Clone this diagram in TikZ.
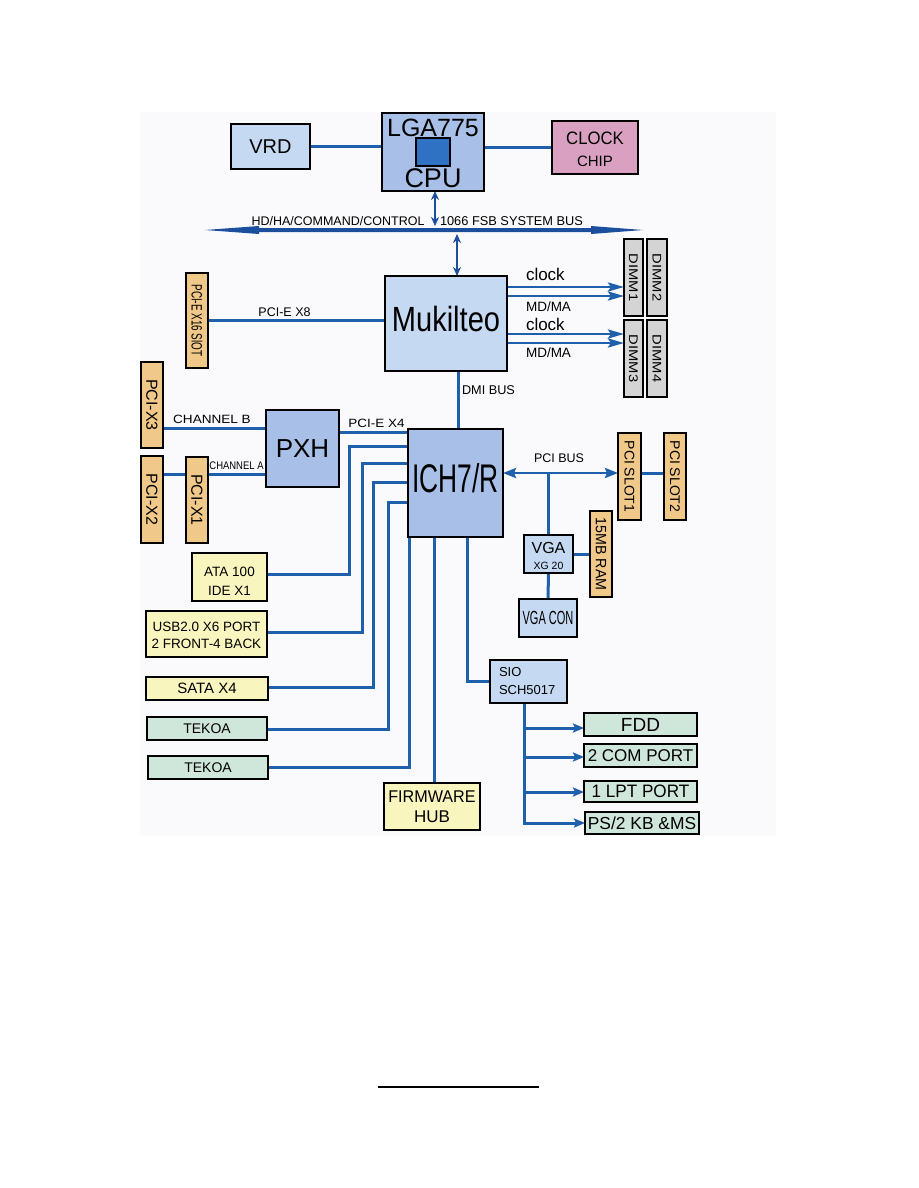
\documentclass[tikz,border=0pt]{standalone}
\usepackage{fontspec}
\setmainfont{Liberation Sans}
\usepackage{graphicx}
\usetikzlibrary{arrows.meta,calc}
\definecolor{lb}{HTML}{C5DAF2}
\definecolor{mb}{HTML}{A8C0E7}
\definecolor{sqc}{HTML}{2F72C4}
\definecolor{pk}{HTML}{D9A0C2}
\definecolor{org}{HTML}{F0C98A}
\definecolor{gy}{HTML}{D4D4D4}
\definecolor{yl}{HTML}{F9F5BF}
\definecolor{gr}{HTML}{CFE6DB}
\definecolor{lnc}{HTML}{1F60AC}
\definecolor{busc}{HTML}{1B4F9E}
\definecolor{bgc}{HTML}{FAFAFC}
\newcommand{\fs}[1]{\fontsize{#1}{#1}\selectfont}
\newcommand{\vt}[1]{\rotatebox{-90}{#1}}
\pgfdeclarelayer{bottom}
\pgfdeclarelayer{background}
\pgfsetlayers{bottom,background,main}
\begin{document}
\begin{tikzpicture}[x=1pt,y=-1pt,
  bx/.style={draw=black,line width=1.5pt,inner sep=0pt,outer sep=0pt},
  wire/.style={draw=lnc,line width=3pt},
  arr/.style={wire,line width=2.8pt,-{Stealth[length=16pt,width=9pt,inset=3pt]}},
  sarr/.style={wire,-{Stealth[length=11pt,width=9pt,inset=2pt]}},
  dbl/.style={draw=busc,line width=2.6pt,{Stealth[length=9pt,width=8pt]}-{Stealth[length=9pt,width=8pt]}},
  pbus/.style={wire,line width=2.6pt,{Stealth[length=13pt,width=10pt,inset=2pt]}-{Stealth[length=13pt,width=10pt,inset=2pt]}},
  txt/.style={inner sep=0pt,outer sep=0pt}]
\useasboundingbox (0,0) rectangle (918,1188);
\begin{pgfonlayer}{bottom}
\fill[bgc] (140,112) rectangle (776,836);
\end{pgfonlayer}

% ---- top
\node[bx,fill=lb,minimum width=79pt,minimum height=45pt] (vrd) at (270.5,146.5) {\fs{20}VRD};
\node[bx,fill=mb,minimum width=102pt,minimum height=78pt] (cpu) at (433,152) {};
\node[bx,fill=sqc,line width=1.2pt,minimum width=34pt,minimum height=28pt] (sq) at (433,152) {};
\node[txt] (cpuA) at (433,128) {\fs{25}LGA775};
\node[txt] (cpuB) at (433,178) {\fs{27}CPU};
\node[bx,fill=pk,minimum width=86pt,minimum height=53pt] (clk) at (595,147.5) {};
\node[txt] (clkA) at (595,138) {\fs{18}\scalebox{0.93}[1]{CLOCK}};
\node[txt] (clkB) at (595,161) {\fs{15}CHIP};

% ---- system bus
\fill[busc] (205,230) -- (259,226) -- (259,228) -- (591,228) -- (591,226) -- (643,230)
  -- (591,234) -- (591,232) -- (259,232) -- (259,234) -- cycle;
\coordinate (ba) at (435,226);
\coordinate (bb) at (457,234);
\node[txt] (busL) at (338,221) {\fs{12.5}HD/HA/COMMAND/CONTROL};
\node[txt] (busR) at (511.5,221) {\fs{12.8}1066 FSB SYSTEM BUS};

% ---- north bridge & memory
\node[bx,fill=lb,minimum width=122pt,minimum height=95pt] (muk) at (446,323.5) {};
\node[txt] (mukT) at (446,319) {\fs{35}\scalebox{0.83}[1]{Mukilteo}};
\node[bx,fill=org,minimum width=22pt,minimum height=95pt] (x16) at (197,320.5) {\vt{\fs{15}\scalebox{0.66}[1]{PCI-E X16 SlOT}}};
\node[txt] (x8) at (284.5,312) {\fs{12.5}PCI-E X8};
\node[bx,fill=gy,minimum width=19pt,minimum height=77pt] (dimm1) at (633.5,277.5) {\vt{\fs{12.5}\scalebox{1.18}[1]{DIMM1}}};
\node[bx,fill=gy,minimum width=20pt,minimum height=77pt] (dimm2) at (657,277.5) {\vt{\fs{12.5}\scalebox{1.18}[1]{DIMM2}}};
\node[bx,fill=gy,minimum width=19pt,minimum height=77pt] (dimm3) at (633.5,358.5) {\vt{\fs{12.5}\scalebox{1.18}[1]{DIMM3}}};
\node[bx,fill=gy,minimum width=20pt,minimum height=77pt] (dimm4) at (657,358.5) {\vt{\fs{12.5}\scalebox{1.18}[1]{DIMM4}}};
\node[txt,anchor=west] (lc1) at (526,274) {\fs{17}clock};
\node[txt,anchor=west] (lm1) at (526,307) {\fs{13.5}MD/MA};
\node[txt,anchor=west] (lc2) at (526,324) {\fs{17}clock};
\node[txt,anchor=west] (lm2) at (526,353) {\fs{13.5}MD/MA};
\node[txt] (dmiT) at (488.5,390) {\fs{12.7}DMI BUS};

% ---- PCI-X & PXH
\node[bx,fill=org,minimum width=22pt,minimum height=86pt] (px3) at (152,405) {\vt{\fs{16}PCI-X3}};
\node[bx,fill=org,minimum width=22pt,minimum height=87pt] (px2) at (152,499.5) {\vt{\fs{16}PCI-X2}};
\node[bx,fill=org,minimum width=22pt,minimum height=86pt] (px1) at (197,500) {\vt{\fs{16}PCI-X1}};
\node[bx,fill=mb,minimum width=73pt,minimum height=77pt] (pxh) at (302.5,448.5) {\fs{26}PXH};
\node[txt] (chB) at (212,419) {\fs{12}\scalebox{1.13}[1]{CHANNEL B}};
\node[txt] (chA) at (236.5,466) {\fs{11}\scalebox{0.86}[1]{CHANNEL A}};
\node[txt] (x4) at (376.5,423) {\fs{12}\scalebox{1.12}[1]{PCI-E X4}};

% ---- ICH
\node[bx,fill=mb,minimum width=95pt,minimum height=108pt] (ich) at (455.5,483) {};
\node[txt] (ichT) at (455.5,478) {\fs{40}\scalebox{0.66}[1]{ICH7/R}};

% ---- left peripherals
\node[bx,fill=yl,minimum width=75pt,minimum height=48pt] (ata) at (229.5,577) {};
\node[txt,align=center,font={\fontsize{13.5}{19}\selectfont}] (ataT) at (229.5,581) {ATA 100\\IDE X1};
\node[bx,fill=yl,minimum width=121pt,minimum height=46pt] (usb) at (206.5,634) {};
\node[txt,align=center,font={\fontsize{13.5}{17}\selectfont}] (usbT) at (206.5,635.5) {USB2.0 X6 PORT\\2 FRONT-4 BACK};
\node[bx,fill=yl,minimum width=122pt,minimum height=23pt] (sata) at (207,688.5) {\fs{15}SATA X4};
\node[bx,fill=gr,minimum width=120pt,minimum height=23pt] (tek1) at (207,728.5) {\fs{14}TEKOA};
\node[bx,fill=gr,minimum width=120pt,minimum height=23pt] (tek2) at (208,767.5) {\fs{14}TEKOA};
\node[bx,fill=yl,minimum width=96pt,minimum height=47pt] (fwh) at (432,806.5) {};
\node[txt,align=center,font={\fontsize{17}{20}\selectfont}] (fwhT) at (432,807) {\scalebox{0.95}[1]{FIRMWARE}\\HUB};

% ---- PCI & VGA
\node[bx,fill=org,minimum width=23pt,minimum height=87pt] (pcis1) at (629.5,476.5) {\vt{\fs{14}PCI SLOT1}};
\node[bx,fill=org,minimum width=22pt,minimum height=87pt] (pcis2) at (675,476.5) {\vt{\fs{14}PCI SLOT2}};
\node[txt] (pbT) at (559,458) {\fs{12.5}PCI BUS};
\coordinate (pb) at (560,473);
\node[bx,fill=lb,minimum width=49pt,minimum height=38pt] (vga) at (548.5,554) {};
\node[txt] (vgaA) at (548.5,548) {\fs{16}VGA};
\node[txt] (vgaB) at (548.5,566) {\fs{10.5}XG 20};
\node[bx,fill=org,minimum width=22pt,minimum height=86pt] (ram) at (601,554) {\vt{\fs{15}\scalebox{0.95}[1]{15MB RAM}}};
\node[bx,fill=lb,minimum width=58pt,minimum height=38pt] (vgacon) at (548,618) {\fs{19}\scalebox{0.58}[1]{VGA CON}};

% ---- SIO
\node[bx,fill=lb,minimum width=77pt,minimum height=43pt] (sio) at (528.5,681.5) {};
\node[txt,anchor=west,align=left,font={\fontsize{13}{18}\selectfont}] (sioT) at (499,681) {SIO\\SCH5017};
\node[bx,fill=gr,minimum width=113pt,minimum height=23pt] (fdd) at (640.5,724.5) {\fs{19}FDD};
\node[bx,fill=gr,minimum width=113pt,minimum height=23pt] (com) at (640.5,755.5) {\fs{17}2 COM PORT};
\node[bx,fill=gr,minimum width=113pt,minimum height=21pt] (lpt) at (640.5,791.5) {\fs{18}\scalebox{0.95}[1]{1 LPT PORT}};
\node[bx,fill=gr,minimum width=114pt,minimum height=22pt] (ps2) at (642,823) {\fs{17.4}PS/2 KB \&MS};

% ---- connectors
\begin{pgfonlayer}{background}
\draw[wire] (vrd.east) -- (vrd.east -| cpu.west);
\draw[wire] (cpu.east |- clk.west) -- (clk.west);
\draw[dbl] ($(cpu.south)+(2,0)$) -- (ba);
\draw[dbl] (bb) -- (bb |- muk.north);
\draw[wire] (x16.east) -- (x16.east -| muk.west);
\coordinate (d1) at ($(muk.east)+(0,-36.5)$);
\coordinate (d2) at ($(muk.east)+(0,-27.5)$);
\coordinate (d3) at ($(muk.east)+(0,10.5)$);
\coordinate (d4) at ($(muk.east)+(0,19.5)$);
\draw[arr] (d1) -- (d1 -| dimm1.west);
\draw[arr] (d2) -- (d2 -| dimm1.west);
\draw[arr] (d3) -- (d3 -| dimm3.west);
\draw[arr] (d4) -- (d4 -| dimm3.west);
\coordinate (dm) at (458,0);
\draw[wire] (muk.south -| dm) -- (ich.north -| dm);
\coordinate (cb) at ($(pxh.west)+(0,-20.5)$);
\coordinate (ca) at ($(pxh.west)+(0,25.5)$);
\coordinate (p4) at ($(pxh.east)+(0,-16.5)$);
\draw[wire] (cb) -- (cb -| px3.east);
\draw[wire] (ca) -- (ca -| px1.east);
\draw[wire] (px1.west |- ca) -- (px2.east |- ca);
\draw[wire] (p4) -- (p4 -| ich.west);
\draw[wire] ($(ich.west)+(0,-37)$) -| ($(ata.east)+(82,-3)$) -- ($(ata.east)+(0,-3)$);
\draw[wire] ($(ich.west)+(0,-20)$) -| ($(usb.east)+(95,-2)$) -- ($(usb.east)+(0,-2)$);
\draw[wire] ($(ich.west)+(0,-1)$) -| ($(sata.east)+(105,-1.5)$) -- ($(sata.east)+(0,-1.5)$);
\draw[wire] ($(ich.west)+(0,19)$) -| ($(tek1.east)+(121,0.5)$) -- ($(tek1.east)+(0,0.5)$);
\draw[wire] ($(ich.south west)+(1.3,0)$) |- (tek2.east);
\coordinate (fw) at (434,0);
\draw[wire] (ich.south -| fw) -- (fwh.north -| fw);
\draw[wire] ($(ich.south)+(11.5,0)$) |- (sio.west);
\draw[pbus] (ich.east |- pb) -- (pcis1.west |- pb);
\draw[wire] (pcis1.east |- pb) -- (pcis2.west |- pb);
\draw[wire] (vga.north) -- (vga.north |- pb);
\draw[wire] (vga.east) -- (ram.west);
\draw[wire] (vga.south) -- (vgacon.north);
\coordinate (tr) at ($(sio.south west)+(34,0)$);
\coordinate (fi) at ($(fdd.west)+(0,3.5)$);
\coordinate (ci) at ($(com.west)+(0,1.5)$);
\coordinate (li) at ($(lpt.west)+(0,0.5)$);
\draw[sarr] (tr) |- (ps2.west);
\draw[sarr] (tr |- fi) -- (fi);
\draw[sarr] (tr |- ci) -- (ci);
\draw[sarr] (tr |- li) -- (li);
\end{pgfonlayer}

% ---- footer rule
\draw[line width=2pt] (378,1087) -- (539,1087);
\end{tikzpicture}
\end{document}
